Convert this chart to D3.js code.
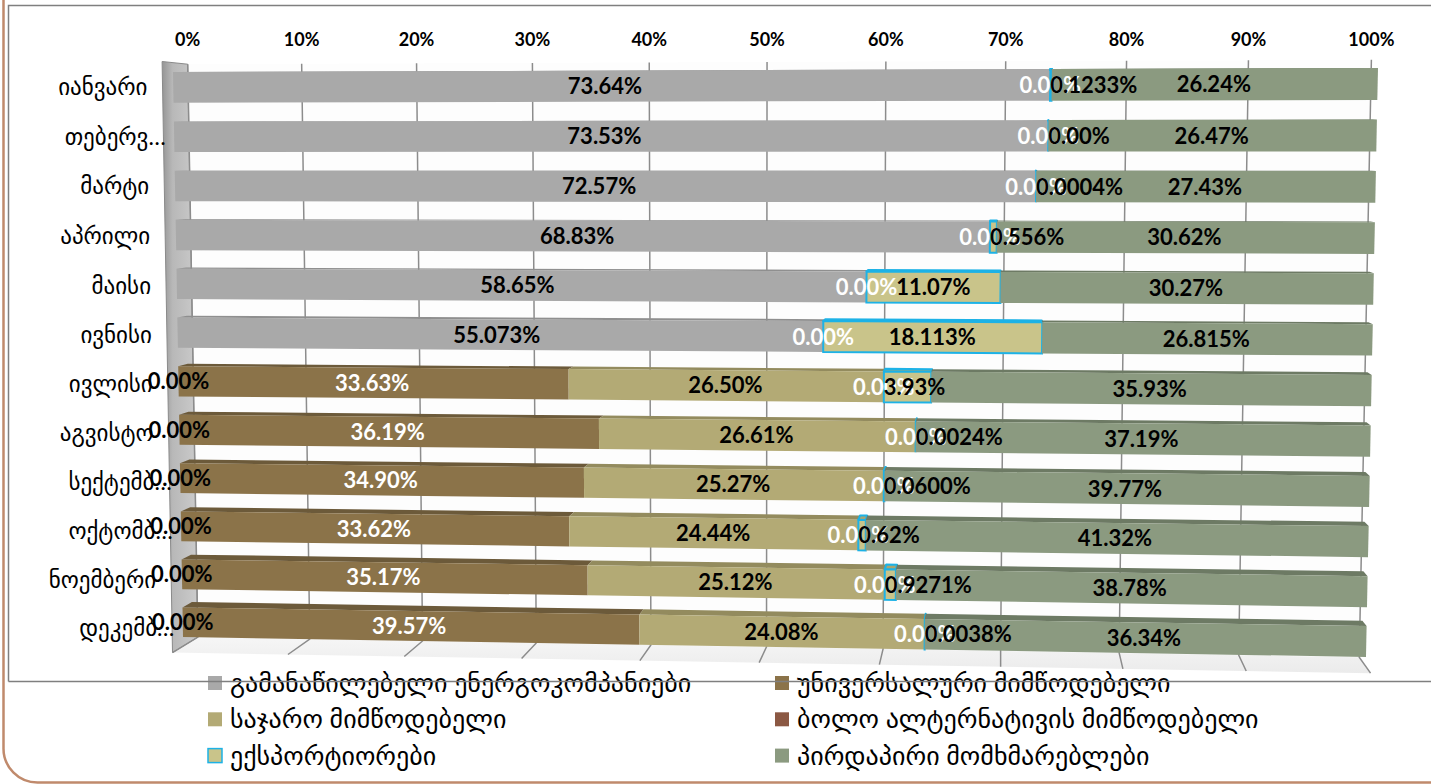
<!DOCTYPE html>
<html>
<head>
<meta charset="utf-8">
<script src="https://cdn.jsdelivr.net/npm/d3@7"></script>
<style>
  body { margin: 0; background: #fff; }
  svg text { font-family: Lato, "DejaVu Sans", sans-serif; }
</style>
</head>
<body>
<svg id="chart" width="1431" height="784"></svg>
<script>
// months (as displayed, excel truncates the long ones)
var months = ["იანვარი", "თებერვ…", "მარტი", "აპრილი", "მაისი", "ივნისი",
              "ივლისი", "აგვისტო", "სექტემბ…", "ოქტომბ…", "ნოემბერი", "დეკემბ…"];

var seriesNames = ["გამანაწილებელი ენერგოკომპანიები", "უნივერსალური მიმწოდებელი",
                   "საჯარო მიმწოდებელი", "ბოლო ალტერნატივის მიმწოდებელი",
                   "ექსპორტიორები", "პირდაპირი მომხმარებლები"];

// shares in %, kept as the label text shown on the chart (null = no label)
var distribution = ["73.64", "73.53", "72.57", "68.83", "58.65", "55.073", "0.00", "0.00", "0.00", "0.00", "0.00", "0.00"];
var universal    = [null, null, null, null, null, null, "33.63", "36.19", "34.90", "33.62", "35.17", "39.57"];
var publicSup    = [null, null, null, null, null, null, "26.50", "26.61", "25.27", "24.44", "25.12", "24.08"];
var lastResort   = ["0.00", "0.00", "0.00", "0.00", "0.00", "0.00", "0.00", "0.00", "0.00", "0.00", "0.00", "0.00"];
var exporters    = ["0.1233", "0.00", "0.0004", "0.556", "11.07", "18.113", "3.93", "0.0024", "0.0600", "0.62", "0.9271", "0.0038"];
var direct       = ["26.24", "26.47", "27.43", "30.62", "30.27", "26.815", "35.93", "37.19", "39.77", "41.32", "38.78", "36.34"];

var tickValues = [0, 10, 20, 30, 40, 50, 60, 70, 80, 90, 100];
var tickLabels = ["0%", "10%", "20%", "30%", "40%", "50%", "60%", "70%", "80%", "90%", "100%"];

var colors   = ["#a9a9a9", "#8b7349", "#b3aa75", "#8b5843", "#c9c48a", "#8b9a80"];
var topColor = ["#8f8f8f", "#6c5a3a", "#938b5e", "#6e4535", "#a9a470", "#6d7a64"];
var labelColor = ["#000", "#fff", "#000", "#fff", "#000", "#000"];
var columns = [distribution, universal, publicSup, lastResort, exporters, direct];
var keys = ["s0", "s1", "s2", "s3", "s4", "s5"];

var svg = d3.select("#chart");

// ---- 3d view -------------------------------------------------------------
// front faces of the bars lie in one plane; map the unit square onto it
function squareToQuad(q) {
  var x0 = q[0][0], y0 = q[0][1], x1 = q[1][0], y1 = q[1][1],
      x2 = q[2][0], y2 = q[2][1], x3 = q[3][0], y3 = q[3][1];
  var dx1 = x1 - x2, dx2 = x3 - x2, dx3 = x0 - x1 + x2 - x3;
  var dy1 = y1 - y2, dy2 = y3 - y2, dy3 = y0 - y1 + y2 - y3;
  var den = dx1 * dy2 - dx2 * dy1;
  var g = (dx3 * dy2 - dx2 * dy3) / den;
  var h = (dx1 * dy3 - dx3 * dy1) / den;
  var a = x1 - x0 + g * x1, b = x3 - x0 + h * x3, c = x0;
  var d = y1 - y0 + g * y1, e = y3 - y0 + h * y3, f = y0;
  return function(u, v) {
    var w = g * u + h * v + 1;
    return [(a * u + b * v + c) / w, (d * u + e * v + f) / w];
  };
}
var proj = squareToQuad([[173, 72], [1378, 68], [1366, 657], [183, 637]]);
var vp = [1000, 150];          // vanishing point of the depth direction
var barBack = 0.9885, wallFront = 1.013, wallBack = 0.982;

function pt(u, v, k) {
  var p = proj(u, v);
  return [vp[0] + (p[0] - vp[0]) * k, vp[1] + (p[1] - vp[1]) * k];
}
function poly(pts) { return "M" + pts.map(function(p) { return p[0].toFixed(1) + "," + p[1].toFixed(1); }).join("L") + "Z"; }

// ---- scales ---------------------------------------------------------------
var x = d3.scaleLinear().domain([0, 100]).range([0, 1]);
var y = d3.scaleBand().domain(months).range([0, 1]).paddingInner(0.38).paddingOuter(0);
var bw = y.bandwidth();
var vTop = -y.step() * 0.19, vBot = 1 + y.step() * 0.19;

var rows = months.map(function(m, i) {
  var r = { month: m };
  columns.forEach(function(col, j) { r[keys[j]] = col[i] == null ? 0 : +col[i]; });
  return r;
});
var stacked = d3.stack().keys(keys).offset(d3.stackOffsetExpand)(rows);

// ---- walls ----------------------------------------------------------------
var defs = svg.append("defs");
var wg = defs.append("linearGradient").attr("id", "wallGrad")
  .attr("gradientUnits", "userSpaceOnUse").attr("x1", 160).attr("x2", 202).attr("y1", 0).attr("y2", 0);
wg.append("stop").attr("offset", 0).attr("stop-color", "#8e8e8e");
wg.append("stop").attr("offset", 0.3).attr("stop-color", "#b8b8b8");
wg.append("stop").attr("offset", 0.85).attr("stop-color", "#cacaca");
wg.append("stop").attr("offset", 1).attr("stop-color", "#a3a3a3");
var fg = defs.append("linearGradient").attr("id", "floorGrad")
  .attr("x1", 0).attr("x2", 0).attr("y1", 0).attr("y2", 1);
fg.append("stop").attr("offset", 0).attr("stop-color", "#f6f6f6");
fg.append("stop").attr("offset", 1).attr("stop-color", "#ebebeb");

svg.append("path")
  .attr("d", poly([pt(0, vTop, wallBack), pt(1, vTop, wallBack), pt(1, vBot, wallBack), pt(0, vBot, wallBack)]))
  .attr("fill", "#fdfdfd");
svg.append("path")
  .attr("d", poly([pt(0, vBot, wallBack), pt(1, vBot, wallBack), pt(1, vBot, wallFront), pt(0, vBot, wallFront)]))
  .attr("fill", "url(#floorGrad)");
svg.append("path")
  .attr("d", poly([pt(0, vTop, wallFront), pt(0, vTop, wallBack), pt(0, vBot, wallBack), pt(0, vBot, wallFront)]))
  .attr("fill", "url(#wallGrad)")
  .attr("stroke", "#8a8a8a").attr("stroke-width", 1);

// gridlines on back wall and floor
var grid = svg.append("g").attr("stroke", "#8c8c8c").attr("stroke-width", 1.5).attr("fill", "none");
tickValues.forEach(function(t) {
  var u = x(t);
  var a = pt(u, vTop, wallBack), b = pt(u, vBot, wallBack), c = pt(u, vBot, wallFront);
  grid.append("path").attr("d", "M" + a + "L" + b + "L" + c);
});

// top axis labels
svg.append("g").selectAll("text").data(tickValues).enter().append("text")
  .attr("x", function(t) { return pt(x(t), vTop, wallBack)[0]; })
  .attr("y", 46)
  .attr("text-anchor", "middle")
  .attr("font-size", 18).attr("font-weight", "bold")
  .text(function(t, i) { return tickLabels[i]; });

// ---- bars -----------------------------------------------------------------
var bars = svg.append("g");
months.forEach(function(m, i) {
  var v0 = y(m), v1 = v0 + bw;
  stacked.forEach(function(s, j) {
    var u0 = s[i][0], u1 = s[i][1];
    if (u1 - u0 <= 0 && j !== 4) return;
    var topFace = [pt(u0, v0, 1), pt(u1, v0, 1), pt(u1, v0, barBack), pt(u0, v0, barBack)];
    var front = [pt(u0, v0, 1), pt(u1, v0, 1), pt(u1, v1, 1), pt(u0, v1, 1)];
    var st = j === 4 ? "#1db2e6" : "none";
    bars.append("path").attr("d", poly(topFace)).attr("fill", topColor[j])
      .attr("stroke", st).attr("stroke-width", 2).attr("stroke-linejoin", "round");
    bars.append("path").attr("d", poly(front)).attr("fill", colors[j])
      .attr("stroke", st).attr("stroke-width", 2);
  });
});

// ---- data labels ------------------------------------------------------------
var labels = svg.append("g").attr("font-size", 22).attr("font-weight", "bold");
stacked.forEach(function(s, j) {
  months.forEach(function(m, i) {
    var txt = columns[j][i];
    if (txt == null) return;
    var vm = y(m) + bw / 2;
    var u0 = s[i][0], u1 = s[i][1];
    var c = pt((u0 + u1) / 2, vm, 1);
    var t = labels.append("text")
      .attr("y", c[1]).attr("dy", "0.36em")
      .attr("text-anchor", "middle")
      .attr("fill", labelColor[j])
      .text(txt + "%");
    var cx = c[0];
    if (j === 4) {
      // narrow exporter segments: label starts at the segment
      var w = t.node().getComputedTextLength();
      cx = Math.max(cx, pt(u0, vm, 1)[0] + w / 2);
    }
    t.attr("x", cx);
  });
});

// ---- category labels --------------------------------------------------------
var cats = svg.append("g").attr("font-size", 23).attr("fill", "#000");
months.forEach(function(m) {
  var p = pt(0, y(m) + bw / 2, wallFront);
  var xr = p[0] - 15;
  var cut = m.slice(-1) === "…";
  cats.append("text").attr("x", xr).attr("y", p[1]).attr("dy", "0.35em")
    .attr("text-anchor", "end").text(cut ? m.slice(0, -1) : m);
  if (cut) {
    cats.append("text").attr("x", xr).attr("y", p[1]).attr("dy", "0.35em").text("…");
  }
});

// ---- legend -----------------------------------------------------------------
var legend = svg.append("g").attr("font-size", 26);
seriesNames.forEach(function(name, j) {
  var col = j % 2, row = Math.floor(j / 2);
  var lx = col === 0 ? 208 : 775, ly = 683 + row * 36.3;
  legend.append("rect").attr("x", lx).attr("y", ly - 7).attr("width", 14).attr("height", 14)
    .attr("fill", colors[j])
    .attr("stroke", j === 4 ? "#1db2e6" : "none").attr("stroke-width", 1.5);
  legend.append("text").attr("x", lx + 22).attr("y", ly).attr("dy", "0.35em").text(name);
});

// ---- frames -----------------------------------------------------------------
svg.append("path").attr("d", "M8.5,681.5V5.5H1440M8.5,681.5H1431")
  .attr("fill", "none").attr("stroke", "#7f7f7f").attr("stroke-width", 1.5);
svg.append("path").attr("d", "M3.5,0V748A34,34 0 0 0 37.5,782.5H1431")
  .attr("fill", "none").attr("stroke", "#c08a6c").attr("stroke-width", 2.5);
</script>
</body>
</html>
